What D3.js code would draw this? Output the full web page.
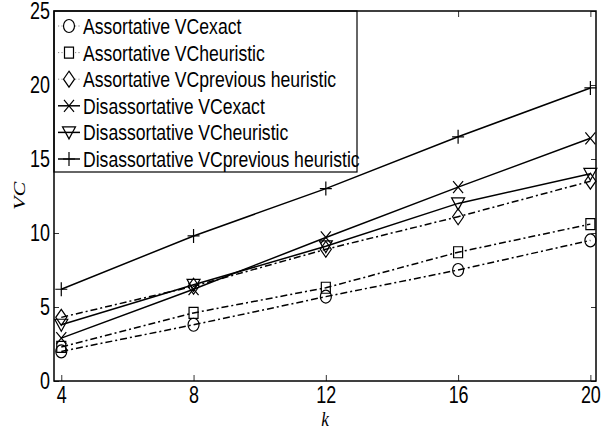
<!DOCTYPE html>
<html>
<head>
<meta charset="utf-8">
<script src="https://cdn.jsdelivr.net/npm/d3@7"></script>
<style>
  html, body { margin: 0; padding: 0; background: #fff; }
  svg { display: block; }
</style>
</head>
<body>
<svg id="chart" width="603" height="432"></svg>
<script>
// Vertex cover size vs. average degree k
const ks = [4, 8, 12, 16, 20];
const assortExact = [2.0, 3.8, 5.7, 7.5, 9.5];
const assortHeur  = [2.3, 4.6, 6.3, 8.7, 10.6];
const assortPrev  = [4.3, 6.4, 8.9, 11.1, 13.5];
const disExact    = [2.9, 6.2, 9.7, 13.1, 16.4];
const disHeur     = [3.8, 6.5, 9.1, 12.0, 14.0];
const disPrev     = [6.2, 9.8, 13.0, 16.5, 19.8];

const seriesNames = [
  "Assortative VCexact",
  "Assortative VCheuristic",
  "Assortative VCprevious heuristic",
  "Disassortative VCexact",
  "Disassortative VCheuristic",
  "Disassortative VCprevious heuristic"
];
const yTicks = [0, 5, 10, 15, 20, 25];

const series = [
  { name: seriesNames[0], values: assortExact, marker: "circle",  dashed: true },
  { name: seriesNames[1], values: assortHeur,  marker: "square",  dashed: true },
  { name: seriesNames[2], values: assortPrev,  marker: "diamond", dashed: true },
  { name: seriesNames[3], values: disExact,    marker: "x",       dashed: false },
  { name: seriesNames[4], values: disHeur,     marker: "tridown", dashed: false },
  { name: seriesNames[5], values: disPrev,     marker: "plus",    dashed: false }
];

const svg = d3.select("#chart");
const L = 54, R = 596, T = 11, B = 381;
const sx = 0.78; // horizontal squeeze applied to text

const x = d3.scaleLinear().domain([3.78, 20.17]).range([L, R]);
const y = d3.scaleLinear().domain([0, 25]).range([B, T]);

// Marker outlines, centred on (0,0)
function markerPath(type) {
  switch (type) {
    case "circle":  return "M5.5,0 A5.5,6.5 0 1,1 -5.5,0 A5.5,6.5 0 1,1 5.5,0 Z";
    case "square":  return "M-4.5,-5.5 H4.5 V5.5 H-4.5 Z";
    case "diamond": return "M0,-8 L5.5,0 L0,8 L-5.5,0 Z";
    case "x":       return "M-5,-6 L5,6 M-5,6 L5,-6";
    case "tridown": return "M-6.5,-5.5 L6.5,-5.5 L0,6.5 Z";
    case "plus":    return "M-6,0 H6 M0,-7 V7";
  }
  return "";
}

const plot = svg.append("g");

const line = d3.line()
  .x((d, i) => x(ks[i]))
  .y(d => y(d));

series.forEach(s => {
  plot.append("path")
    .attr("d", line(s.values))
    .attr("fill", "none")
    .attr("stroke", "#000")
    .attr("stroke-width", 1.5)
    .attr("stroke-dasharray", s.dashed ? "7,3,2,3" : null);
  plot.selectAll(null)
    .data(s.values)
    .enter()
    .append("path")
    .attr("d", markerPath(s.marker))
    .attr("transform", (d, i) => `translate(${x(ks[i])},${y(d)})`)
    .attr("fill", "none")
    .attr("stroke", "#000")
    .attr("stroke-width", 1.2);
});

// Axes: inward ticks on all four sides
const tickFont = "Liberation Sans, Arial, sans-serif";

const gBottom = svg.append("g").attr("transform", `translate(0,${B})`)
  .call(d3.axisBottom(x).tickValues(ks).tickSize(-6).tickSizeOuter(0).tickPadding(6));
gBottom.selectAll("text")
  .attr("transform", `scale(${sx},1)`)
  .style("font-family", tickFont).style("font-size", "23px").attr("fill", "#000");

const gTop = svg.append("g").attr("transform", `translate(0,${T})`)
  .call(d3.axisTop(x).tickValues(ks).tickSize(-6).tickSizeOuter(0).tickFormat(""));

const gLeft = svg.append("g").attr("transform", `translate(${L},0)`)
  .call(d3.axisLeft(y).tickValues(yTicks).tickSize(-5).tickSizeOuter(0));
gLeft.selectAll("text")
  .attr("x", 0)
  .attr("transform", `translate(-4,0) scale(${sx},1)`)
  .style("font-family", tickFont).style("font-size", "23px").attr("fill", "#000");

const gRight = svg.append("g").attr("transform", `translate(${R},0)`)
  .call(d3.axisRight(y).tickValues(yTicks).tickSize(-5).tickSizeOuter(0).tickFormat(""));

[gBottom, gTop, gLeft, gRight].forEach(g => {
  g.select(".domain").remove();
  g.selectAll(".tick line").attr("stroke", "#333").attr("stroke-width", 1);
});

// Legend in the upper-left corner
const legend = svg.append("g");
const legW = 303, legH = 161;
legend.append("rect")
  .attr("x", L).attr("y", T).attr("width", legW).attr("height", legH)
  .attr("fill", "#fff").attr("stroke", "#000").attr("stroke-width", 1.2);

const rowY = d3.scaleLinear().domain([0, 5]).range([T + 15, T + 148]);
series.forEach((s, i) => {
  const cy = rowY(i);
  legend.append("line")
    .attr("x1", L + 4).attr("x2", L + 26).attr("y1", cy).attr("y2", cy)
    .attr("stroke", s.dashed ? "#888" : "#000")
    .attr("stroke-width", s.dashed ? 1 : 1.5)
    .attr("stroke-dasharray", s.dashed ? "1.2,2.2" : null);
  legend.append("path")
    .attr("d", markerPath(s.marker))
    .attr("transform", `translate(${L + 15},${cy})`)
    .attr("fill", s.dashed ? "#fff" : "none")
    .attr("stroke", "#000").attr("stroke-width", 1.2);
  legend.append("text")
    .attr("transform", `translate(${L + 29},${cy + 8}) scale(0.8,1)`)
    .style("font-family", tickFont).style("font-size", "22px")
    .attr("fill", "#000")
    .text(s.name);
});

// Plot frame
svg.append("rect")
  .attr("x", L).attr("y", T).attr("width", R - L).attr("height", B - T)
  .attr("fill", "none").attr("stroke", "#000").attr("stroke-width", 1.5);

// Axis titles
svg.append("text")
  .attr("transform", `translate(${(L + R) / 2},${B + 45}) scale(${sx},1)`)
  .attr("text-anchor", "middle")
  .style("font-family", "Liberation Serif, Times New Roman, serif")
  .style("font-style", "italic").style("font-size", "22px")
  .text("k");

svg.append("text")
  .attr("transform", `translate(${25},${196}) rotate(-90) scale(1,${sx})`)
  .attr("text-anchor", "middle")
  .style("font-family", "Liberation Serif, Times New Roman, serif")
  .style("font-style", "italic").style("font-size", "22px")
  .text("VC");
</script>
</body>
</html>
